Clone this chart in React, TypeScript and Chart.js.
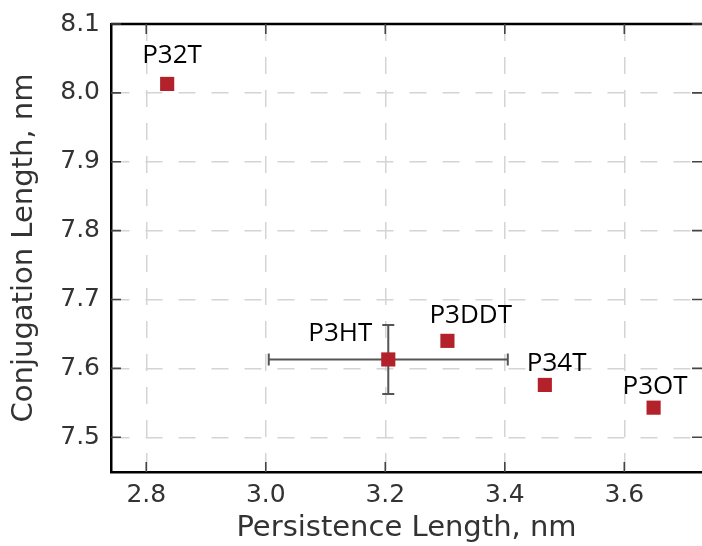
import React, { useEffect, useRef } from "react";
import { Chart, registerables } from "chart.js";

Chart.register(...registerables);

// ---- data ----
const polymers = ["P32T", "P3HT", "P3DDT", "P34T", "P3OT"];
const persistenceLength = [2.835, 3.205, 3.304, 3.467, 3.649];
const conjugationLength = [8.013, 7.613, 7.64, 7.576, 7.543];
const persistenceErr = [0, 0.2, 0, 0, 0];
const conjugationErr = [0, 0.05, 0, 0, 0];
const xTicks = [2.8, 3.0, 3.2, 3.4, 3.6];
const yTicks = [7.5, 7.6, 7.7, 7.8, 7.9, 8.0, 8.1];
const xTitle = "Persistence Length, nm";
const yTitle = "Conjugation Length, nm";

const errorBarPlugin = {
  id: "errorBars",
  beforeDatasetsDraw(chart: any) {
    const { ctx, scales } = chart;
    const xs = scales.x;
    const ys = scales.y;
    ctx.save();
    ctx.strokeStyle = "#555555";
    ctx.lineWidth = 2;
    const cap = 6;
    persistenceLength.forEach((xv, i) => {
      const yv = conjugationLength[i];
      const px = xs.getPixelForValue(xv);
      const py = ys.getPixelForValue(yv);
      const ex = persistenceErr[i];
      const ey = conjugationErr[i];
      if (ex > 0) {
        const x1 = xs.getPixelForValue(xv - ex);
        const x2 = xs.getPixelForValue(xv + ex);
        ctx.beginPath();
        ctx.moveTo(x1, py);
        ctx.lineTo(x2, py);
        ctx.moveTo(x1, py - cap);
        ctx.lineTo(x1, py + cap);
        ctx.moveTo(x2, py - cap);
        ctx.lineTo(x2, py + cap);
        ctx.stroke();
      }
      if (ey > 0) {
        const y1 = ys.getPixelForValue(yv - ey);
        const y2 = ys.getPixelForValue(yv + ey);
        ctx.beginPath();
        ctx.moveTo(px, y1);
        ctx.lineTo(px, y2);
        ctx.moveTo(px - cap, y1);
        ctx.lineTo(px + cap, y1);
        ctx.moveTo(px - cap, y2);
        ctx.lineTo(px + cap, y2);
        ctx.stroke();
      }
    });
    ctx.restore();
  },
};

const frameTicksPlugin = {
  id: "frameTicks",
  afterDatasetsDraw(chart: any) {
    const { ctx, chartArea, scales } = chart;
    const { left, right, top, bottom } = chartArea;
    ctx.save();
    // top spine
    ctx.strokeStyle = "#000000";
    ctx.lineWidth = 2.5;
    ctx.beginPath();
    ctx.moveTo(left, top);
    ctx.lineTo(right + 4, top);
    ctx.stroke();
    // inward tick marks
    const len = 10;
    ctx.strokeStyle = "#444444";
    ctx.lineWidth = 1.6;
    ctx.beginPath();
    xTicks.forEach((v) => {
      const p = scales.x.getPixelForValue(v);
      ctx.moveTo(p, bottom);
      ctx.lineTo(p, bottom - len);
      ctx.moveTo(p, top);
      ctx.lineTo(p, top + len);
    });
    yTicks.forEach((v) => {
      const p = scales.y.getPixelForValue(v);
      ctx.moveTo(left, p);
      ctx.lineTo(left + len, p);
      ctx.moveTo(right, p);
      ctx.lineTo(right - len, p);
    });
    ctx.stroke();
    ctx.restore();
  },
};

const pointLabelPlugin = {
  id: "pointLabels",
  afterDatasetsDraw(chart: any, _args: any, opts: any) {
    const { ctx, scales } = chart;
    const offsets: number[][] = opts.offsets;
    ctx.save();
    ctx.font = '26px "Open Sans"';
    ctx.fillStyle = "#000000";
    ctx.textAlign = "left";
    ctx.textBaseline = "alphabetic";
    polymers.forEach((name, i) => {
      const px = scales.x.getPixelForValue(persistenceLength[i]);
      const py = scales.y.getPixelForValue(conjugationLength[i]);
      const [dx, dy] = offsets[i];
      ctx.fillText(name, px + dx, py + dy);
    });
    ctx.restore();
  },
};

export default function App() {
  const ref = useRef<HTMLCanvasElement | null>(null);

  useEffect(() => {
    if (!ref.current) return;
    const chart = new Chart(ref.current, {
      type: "scatter",
      data: {
        datasets: [
          {
            label: "polymers",
            data: persistenceLength.map((x, i) => ({ x, y: conjugationLength[i] })),
            pointStyle: "rect",
            pointRadius: 10,
            pointHoverRadius: 10,
            backgroundColor: "#b3222a",
            borderColor: "#b3222a",
            borderWidth: 0,
          },
        ],
      },
      options: {
        animation: false,
        responsive: false,
        events: [],
        layout: { autoPadding: false, padding: { top: 24, right: 0, left: 0, bottom: 0 } },
        plugins: {
          legend: { display: false },
          tooltip: { enabled: false },
          pointLabels: {
            offsets: [
              [-25, -21],
              [-80, -18],
              [-18, -18],
              [-18, -14],
              [-31, -14],
            ],
          },
        } as any,
        scales: {
          x: {
            type: "linear",
            min: 2.741,
            max: 3.73,
            afterFit: (s: any) => {
              s.height = 74;
              s.paddingLeft = 0;
              s.paddingRight = 0;
            },
            afterBuildTicks: (s: any) => {
              s.ticks = xTicks.map((value) => ({ value }));
            },
            ticks: {
              padding: 8.5,
              color: "#333333",
              font: { family: '"DejaVu Sans"', size: 25 },
              callback: (v: any) => Number(v).toFixed(1),
              maxRotation: 0,
              autoSkip: false,
            },
            grid: {
              color: "#d4d4d4",
              lineWidth: 1.5,
              drawTicks: false,
            },
            border: { color: "#000000", width: 2.5, dash: [17, 16] },
            title: {
              display: true,
              text: xTitle,
              color: "#333333",
              font: { family: '"DejaVu Sans"', size: 29 },
              padding: { top: 0, bottom: 0 },
            },
          },
          y: {
            type: "linear",
            min: 7.4496,
            max: 8.1,
            afterFit: (s: any) => {
              s.width = 111;
              s.paddingTop = 0;
              s.paddingBottom = 0;
            },
            afterBuildTicks: (s: any) => {
              s.ticks = yTicks.map((value) => ({ value }));
            },
            ticks: {
              padding: 11,
              color: "#333333",
              font: { family: '"DejaVu Sans"', size: 25 },
              callback: (v: any) => Number(v).toFixed(1),
              autoSkip: false,
            },
            grid: {
              color: "#d4d4d4",
              lineWidth: 1.5,
              drawTicks: false,
            },
            border: { color: "#000000", width: 2.5, dash: [17, 16] },
            title: {
              display: true,
              text: yTitle,
              color: "#333333",
              font: { family: '"DejaVu Sans"', size: 29 },
              padding: { top: 7.5, bottom: 0 },
            },
          },
        },
      },
      plugins: [errorBarPlugin, frameTicksPlugin, pointLabelPlugin],
    });
    return () => chart.destroy();
  }, []);

  return (
    <div style={{ position: "fixed", left: 0, top: 0, width: 702, height: 546, background: "#ffffff" }}>
      <canvas ref={ref} width={702} height={546} style={{ display: "block", width: 702, height: 546 }} />
    </div>
  );
}
